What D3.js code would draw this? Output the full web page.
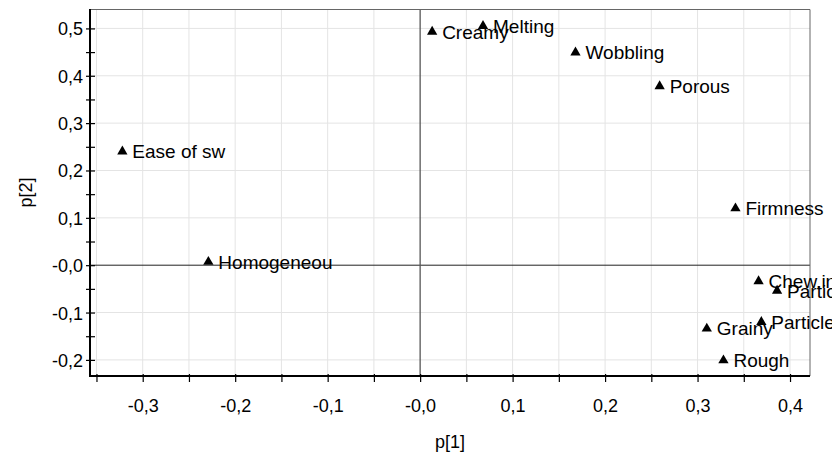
<!DOCTYPE html>
<html>
<head>
<meta charset="utf-8">
<script src="https://cdn.jsdelivr.net/npm/d3@7"></script>
<style>
  body { margin: 0; background: #fff; }
  text { font-family: "Liberation Sans", Arial, sans-serif; fill: #000; }
  .tick-label { font-size: 18px; }
  .point-label { font-size: 19px; }
  .axis-title { font-size: 18px; }
</style>
</head>
<body>
<div id="chart"></div>
<script>
// loadings
const attributes = ["Ease of sw", "Homogeneou", "Creamy", "Melting", "Wobbling", "Porous",
                    "Firmness", "Chew.ind", "Particles", "Particle", "Grainy", "Rough"];
const p1 = [-0.322, -0.229, 0.013, 0.068, 0.168, 0.259, 0.341, 0.366, 0.386, 0.369, 0.310, 0.328];
const p2 = [0.240, 0.007, 0.493, 0.505, 0.449, 0.378, 0.120, -0.034, -0.054, -0.120, -0.134, -0.201];

// tick positions and labels
const xTicks = [-0.35, -0.3, -0.25, -0.2, -0.15, -0.1, -0.05, 0, 0.05, 0.1, 0.15, 0.2, 0.25, 0.3, 0.35, 0.4];
const xTickLabels = {"-0.3": "-0,3", "-0.2": "-0,2", "-0.1": "-0,1", "0": "-0,0",
                     "0.1": "0,1", "0.2": "0,2", "0.3": "0,3", "0.4": "0,4"};
const yTicks = [-0.2, -0.15, -0.1, -0.05, 0, 0.05, 0.1, 0.15, 0.2, 0.25, 0.3, 0.35, 0.4, 0.45, 0.5];
const yTickLabels = {"-0.2": "-0,2", "-0.1": "-0,1", "0": "-0,0", "0.1": "0,1", "0.2": "0,2",
                     "0.3": "0,3", "0.4": "0,4", "0.5": "0,5"};
const yGrid = [-0.2, -0.1, 0.1, 0.2, 0.3, 0.4, 0.5];

const data = attributes.map((name, i) => ({name: name, p1: p1[i], p2: p2[i]}));

const width = 832, height = 458;
const margin = {top: 9, right: 22, bottom: 82, left: 90};
const innerW = width - margin.left - margin.right;
const innerH = height - margin.top - margin.bottom;

const svg = d3.select("#chart").append("svg")
    .attr("width", width)
    .attr("height", height);

const chart = svg.append("g")
    .attr("transform", `translate(${margin.left},${margin.top})`);

const x = d3.scaleLinear().domain([-0.357, 0.4216]).range([0, innerW]);
const y = d3.scaleLinear().domain([-0.234, 0.541]).range([innerH, 0]);

const key = v => String(+v.toFixed(2));

// grid lines
chart.append("g").selectAll("line")
    .data(xTicks.filter(d => d !== 0))
    .join("line")
    .attr("x1", d => x(d)).attr("x2", d => x(d))
    .attr("y1", 0).attr("y2", innerH)
    .attr("stroke", "#e4e4e4").attr("stroke-width", 1);

chart.append("g").selectAll("line")
    .data(yGrid)
    .join("line")
    .attr("x1", 0).attr("x2", innerW)
    .attr("y1", d => y(d)).attr("y2", d => y(d))
    .attr("stroke", "#e4e4e4").attr("stroke-width", 1);

// zero lines
chart.append("line")
    .attr("x1", 0).attr("x2", innerW)
    .attr("y1", y(0)).attr("y2", y(0))
    .attr("stroke", "#222").attr("stroke-width", 1);
chart.append("line")
    .attr("x1", x(0)).attr("x2", x(0))
    .attr("y1", 0).attr("y2", innerH)
    .attr("stroke", "#555").attr("stroke-width", 1.3);

// frame (top and right)
chart.append("path")
    .attr("d", `M0,0.5H${innerW}V${innerH}`)
    .attr("fill", "none")
    .attr("stroke", "#666").attr("stroke-width", 1);

// axes
const xAxis = d3.axisBottom(x)
    .tickValues(xTicks)
    .tickSize(6)
    .tickPadding(17)
    .tickFormat(d => xTickLabels[key(d)] || "");

const yAxis = d3.axisLeft(y)
    .tickValues(yTicks)
    .tickSize(4)
    .tickPadding(6)
    .tickFormat(d => yTickLabels[key(d)] || "");

const xAxisG = chart.append("g")
    .attr("transform", `translate(0,${innerH})`)
    .call(xAxis)
    .call(g => g.select(".domain").remove());
xAxisG.selectAll(".tick line").attr("y1", -2).attr("stroke", "#000").attr("stroke-width", 1.2);
xAxisG.selectAll(".tick text").attr("class", "tick-label").attr("font-size", null)
    .attr("font-family", null).attr("fill", null);

const yAxisG = chart.append("g")
    .call(yAxis)
    .call(g => g.select(".domain").remove());
yAxisG.selectAll(".tick line").attr("x2", -4).attr("x1", 5).attr("stroke", "#000").attr("stroke-width", 1.2);
yAxisG.selectAll(".tick text").attr("class", "tick-label").attr("font-size", null)
    .attr("font-family", null).attr("fill", null).attr("x", -7).attr("dy", "0.36em");

// axis lines (left and bottom, heavy)
chart.append("path")
    .attr("d", `M0,0V${innerH}H${innerW}`)
    .attr("fill", "none")
    .attr("stroke", "#000").attr("stroke-width", 2);

// axis titles
svg.append("text")
    .attr("class", "axis-title")
    .attr("x", margin.left + innerW / 2)
    .attr("y", 448)
    .attr("text-anchor", "middle")
    .text("p[1]");

svg.append("text")
    .attr("class", "axis-title")
    .attr("transform", `translate(32,${margin.top + innerH / 2}) rotate(-90)`)
    .attr("text-anchor", "middle")
    .text("p[2]");

// points with labels
const tri = d3.symbol().type(d3.symbolTriangle).size(46);
const pts = chart.append("g").selectAll("g")
    .data(data)
    .join("g")
    .attr("transform", d => `translate(${x(d.p1)},${y(d.p2)})`);

pts.append("path")
    .attr("d", tri)
    .attr("fill", "#000");

pts.append("text")
    .attr("class", "point-label")
    .attr("x", 10)
    .attr("dy", "0.36em")
    .text(d => d.name);
</script>
</body>
</html>
